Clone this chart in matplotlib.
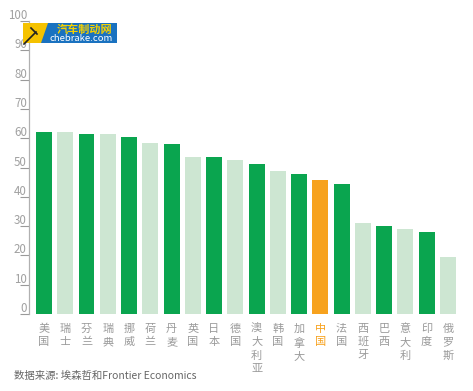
import matplotlib
matplotlib.use("Agg")
import matplotlib.pyplot as plt
from matplotlib.patches import Polygon
from matplotlib.transforms import ScaledTranslation

plt.rcParams['font.family'] = ['Noto Sans CJK SC', 'DejaVu Sans']

# 数据
countries = ["美国", "瑞士", "芬兰", "瑞典", "挪威", "荷兰", "丹麦", "英国", "日本", "德国",
             "澳大利亚", "韩国", "加拿大", "中国", "法国", "西班牙", "巴西", "意大利", "印度", "俄罗斯"]
values = [62.0, 62.0, 61.5, 61.4, 60.4, 58.5, 58.1, 53.7, 53.5, 52.4,
          51.1, 48.7, 47.8, 45.8, 44.5, 31.1, 30.1, 29.0, 28.1, 19.6]
yticks = [0, 10, 20, 30, 40, 50, 60, 70, 80, 90, 100]

dark = "#0aa54f"
light = "#cde6d2"
orange = "#f7a21e"
grey = "#9a9a9a"

colors = []
for i, c in enumerate(countries):
    if c == "中国":
        colors.append(orange)
    elif i % 2 == 0:
        colors.append(dark)
    else:
        colors.append(light)

W, H = 473, 391
fig = plt.figure(figsize=(W / 100, H / 100), dpi=100)
ax = fig.add_axes([29 / W, 1 - 314 / H, (460 - 29) / W, (314 - 21) / H])

x = list(range(len(countries)))
ax.bar(x, values, width=0.75, color=colors)
ax.set_xlim(-0.705, 19.57)
ax.set_ylim(0, 100)

for s in ["top", "right", "bottom"]:
    ax.spines[s].set_visible(False)
ax.spines["left"].set_color("#b0b0b0")
ax.spines["left"].set_linewidth(0.9)

ax.set_yticks(yticks)
ax.set_yticklabels([str(v) for v in yticks])
ax.tick_params(axis="y", length=6.5, width=0.8, color="#9a9a9a", pad=-5,
               labelsize=8.3, labelcolor="#a0a0a0")
off = ScaledTranslation(0, 0.07, fig.dpi_scale_trans)
for lab in ax.get_yticklabels():
    lab.set_transform(lab.get_transform() + off)

ax.set_xticks(x)
ax.set_xticklabels(["\n".join(c) for c in countries], fontsize=8, linespacing=1.4)
ax.tick_params(axis="x", length=0, pad=7)
for lab, c in zip(ax.get_xticklabels(), countries):
    lab.set_color(orange if c == "中国" else grey)
    lab.set_va("top")

fig.text(14 / W, 1 - 376 / H, "数据来源: 埃森哲和Frontier Economics", fontsize=7.5,
         color="#666666", va="center", ha="left")

# 水印标志
def px(pts):
    return [(a / W, 1 - b / H) for a, b in pts]

fig.patches.append(Polygon(px([(23, 23), (117, 23), (117, 43), (23, 43)]),
                           closed=True, facecolor="#1a72c0", edgecolor="none",
                           transform=fig.transFigure, figure=fig))
fig.patches.append(Polygon(px([(23, 23), (48, 23), (41, 43), (23, 43)]),
                           closed=True, facecolor="#f5c200", edgecolor="none",
                           transform=fig.transFigure, figure=fig))
fig.lines.append(plt.Line2D([24 / W, 36 / W], [1 - 44 / H, 1 - 32 / H], color="#222222",
                            lw=1.2, transform=fig.transFigure, figure=fig))
fig.lines.append(plt.Line2D([31 / W, 37 / W], [1 - 28 / H, 1 - 34 / H], color="#222222",
                            lw=1.2, transform=fig.transFigure, figure=fig))
fig.text(112 / W, 1 - 29 / H, "汽车制动网", fontsize=8, color="#f5d000",
         ha="right", va="center", fontweight="bold")
fig.text(113 / W, 1 - 38.5 / H, "chebrake.com", fontsize=6.8, color="white",
         ha="right", va="center")

fig.savefig("out.png", dpi=100)
